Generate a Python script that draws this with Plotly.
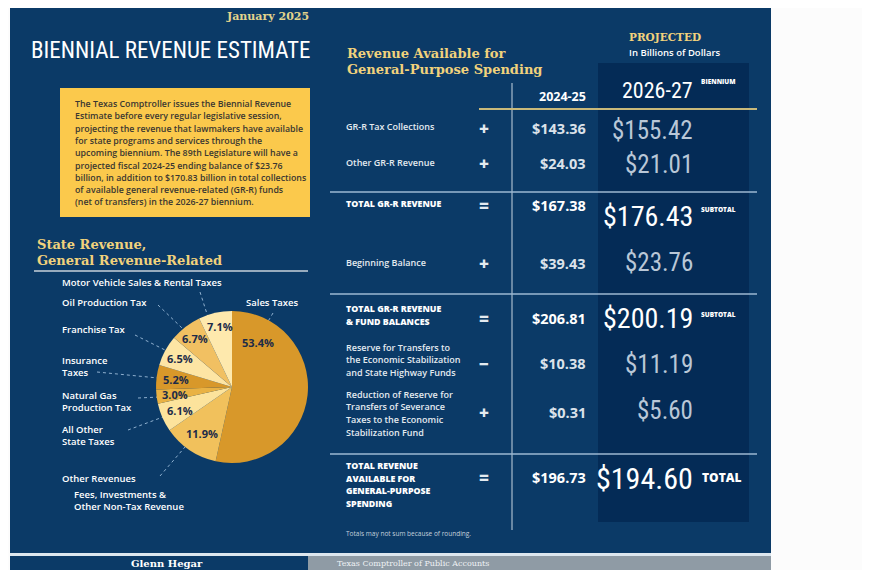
import plotly.graph_objects as go

W, H = 870, 570

# ---------------- data ----------------
pie_labels = ["Sales Taxes", "Other Revenues", "All Other State Taxes",
              "Natural Gas Production Tax", "Insurance Taxes", "Franchise Tax",
              "Oil Production Tax", "Motor Vehicle Sales & Rental Taxes"]
pie_shares = [53.4, 11.9, 6.1, 3.0, 5.2, 6.5, 6.7, 7.1]

row_labels = [
    ["GR-R Tax Collections"],
    ["Other GR-R Revenue"],
    ["TOTAL GR-R REVENUE"],
    ["Beginning Balance"],
    ["TOTAL GR-R REVENUE", "& FUND BALANCES"],
    ["Reserve for Transfers to", "the Economic Stabilization", "and State Highway Funds"],
    ["Reduction of Reserve for", "Transfers of Severance", "Taxes to the Economic", "Stabilization Fund"],
    ["TOTAL REVENUE", "AVAILABLE FOR", "GENERAL-PURPOSE", "SPENDING"],
]
row_ops = ["+", "+", "=", "+", "=", "\u2212", "+", "="]
values_2024_25 = [143.36, 24.03, 167.38, 39.43, 206.81, 10.38, 0.31, 196.73]
values_2026_27 = [155.42, 21.01, 176.43, 23.76, 200.19, 11.19, 5.60, 194.60]
row_kind = ["item", "item", "subtotal", "item", "subtotal", "item", "item", "total"]
row_tag = ["", "", "SUBTOTAL", "", "SUBTOTAL", "", "", "TOTAL"]

intro_lines = [
    "The Texas Comptroller issues the Biennial Revenue",
    "Estimate before every regular legislative session,",
    "projecting the revenue that lawmakers have available",
    "for state programs and services through the",
    "upcoming biennium. The 89th Legislature will have a",
    "projected fiscal 2024-25 ending balance of $23.76",
    "billion, in addition to $170.83 billion in total collections",
    "of available general revenue-related (GR-R) funds",
    "(net of transfers) in the 2026-27 biennium.",
]

# ---------------- style / layout ----------------
NAVY = "#0b3a67"
DARK = "#042b56"
GOLD_T = "#f1d27c"
SANS = "Open Sans, Noto Sans, DejaVu Sans, sans-serif"
SLAB = "DejaVu Serif, serif"
COND = "Liberation Sans Narrow, Roboto Condensed, DejaVu Sans Condensed, sans-serif"

pie_colors = ["#d8982a", "#f1c15c", "#fce39c", "#e9b244",
              "#d8982a", "#fde5a4", "#f1c062", "#fee9ad"]
pct_pos = [(258, 342), (202, 433), (180, 410), (175, 394),
           (176, 379), (180, 358), (195, 338), (220, 326)]

OFF = 8  # page body margin offset


def X(px):
    return (px - OFF) / W


def Y(py):
    return 1 - (py - OFF) / H


ann = []
shapes = []


def T(x, y, text, size, color, family=SANS, anchor="left", weight=400):
    ann.append(dict(x=X(x), y=Y(y), xref="paper", yref="paper", text=text,
                    showarrow=False, xanchor=anchor, yanchor="middle",
                    font=dict(family=family, size=size, color=color, weight=weight)))


def rect(x0, y0, x1, y1, color):
    shapes.append(dict(type="rect", xref="paper", yref="paper", x0=X(x0), x1=X(x1),
                       y0=Y(y0), y1=Y(y1), fillcolor=color, line=dict(width=0), layer="below"))


def line(x0, y0, x1, y1, color, width=1, dash="solid"):
    shapes.append(dict(type="line", xref="paper", yref="paper", x0=X(x0), x1=X(x1),
                       y0=Y(y0), y1=Y(y1), line=dict(color=color, width=width, dash=dash),
                       layer="below"))


# backgrounds
rect(10, 0, 771, 553, NAVY)
rect(10, 553, 771, 556, "#dde7ef")
rect(10, 556, 308, 580, NAVY)
rect(308, 556, 771, 580, "#8f9ba5")
rect(60, 88, 310, 217, "#fbc94c")
rect(598, 63, 749, 522, DARK)

# header
T(311, 16, "January 2025", 11, "#e3d48c", SLAB, "right", 700)
T(312, 50, "BIENNIAL REVENUE ESTIMATE", 23, "#ffffff", COND, "right", 400)
for i, s in enumerate(intro_lines):
    T(73, 104 + i * 12.3, s, 8.8, "#3a3731", SANS, "left", 600)

# pie section
T(35, 245, "State Revenue,", 13, GOLD_T, SLAB, "left", 700)
T(35, 260, "General Revenue-Related", 13, GOLD_T, SLAB, "left", 700)
line(34, 271, 308, 271, "#c9d2da", 1.5)

pie_text = [
    (60, 283, "Motor Vehicle Sales & Rental Taxes"),
    (60, 302, "Oil Production Tax"),
    (244, 302, "Sales Taxes"),
    (60, 329, "Franchise Tax"),
    (60, 360, "Insurance"), (60, 372, "Taxes"),
    (60, 395, "Natural Gas"), (60, 407, "Production Tax"),
    (60, 429, "All Other"), (60, 441, "State Taxes"),
    (60, 478, "Other Revenues"),
    (72, 494, "Fees, Investments &"), (72, 506, "Other Non-Tax Revenue"),
]
for x, y, s in pie_text:
    T(x, y, s, 9.5, "#ffffff", SANS, "left", 600)

LEAD = "#8fb0cf"
for seg in [((200, 292), (208, 317)), ((158, 305), (182, 328)), ((273, 313), (263, 330)),
            ((135, 335), (165, 350)), ((97, 372), (158, 378)), ((138, 398), (160, 397)),
            ((128, 430), (163, 417)), ((160, 476), (185, 447))]:
    line(seg[0][0], seg[0][1], seg[1][0], seg[1][1], LEAD, 1, "dot")

for (x, y), v in zip(pct_pos, pie_shares):
    T(x, y, f"{v:.1f}%", 11, "#1c2b48", SANS, "center", 700)

# right table
T(345, 53, "Revenue Available for", 13, GOLD_T, SLAB, "left", 700)
T(345, 69, "General-Purpose Spending", 13, GOLD_T, SLAB, "left", 700)
T(627, 37, "PROJECTED", 10.5, GOLD_T, SLAB, "left", 700)
T(627, 52, "In Billions of Dollars", 9.5, "#ffffff", SANS, "left", 600)
T(588, 96, "2024-25", 12.5, "#ffffff", SANS, "right", 700)
T(695, 90, "2026-27", 22, "#ffffff", COND, "right", 400)
T(699, 82, "BIENNIUM", 6.5, "#ffffff", SANS, "left", 800)

line(512, 83, 512, 530, "#c8d5e2", 1)
line(479, 109, 757, 109, "#c9b97a", 2)
for yy in (192, 294, 454):
    line(330, yy, 757, yy, "#9cb8d2", 1.5)

label_y = [127, 163, 204, 262, 309, 347, 394, 466]
value_y = [128, 164, 206, 263, 318, 363, 412, 477]
big_y = [130, 165, 216, 262, 318, 365, 410, 478]
big_size = {"item": 25, "subtotal": 28, "total": 30}

for i in range(len(row_labels)):
    kind = row_kind[i]
    tot = kind != "item"
    for j, s in enumerate(row_labels[i]):
        T(344, label_y[i] + j * 12.7, s, 8.8 if tot else 9, "#ffffff" if tot else "#e4eaf0",
          SANS, "left", 800 if tot else 600)
    T(484, value_y[i], row_ops[i], 17, "#e4eaf0", SANS, "center", 800)
    T(588, value_y[i], f"${values_2024_25[i]:.2f}", 14.5, "#ffffff" if tot else "#dbe2ea",
      SANS, "right", 700)
    T(695, big_y[i], f"${values_2026_27[i]:.2f}", big_size[kind],
      "#ffffff" if tot else "#b9c7d7", COND, "right", 400)
    if row_tag[i]:
        if kind == "total":
            T(700, 477, row_tag[i], 12, "#ffffff", SANS, "left", 800)
        else:
            T(699, label_y[i] + 5, row_tag[i], 6.5, "#ffffff", SANS, "left", 800)

T(344, 533, "Totals may not sum because of rounding.", 6.5, "#c5d0dc", SANS, "left", 400)

# footer
T(167, 563, "Glenn Hegar", 10, "#ffffff", SLAB, "center", 700)
T(335, 563, "Texas Comptroller of Public Accounts", 8, "#eef1f4", SLAB, "left", 400)

fig = go.Figure(go.Pie(
    labels=pie_labels, values=pie_shares, sort=False, direction="clockwise", rotation=0,
    marker=dict(colors=pie_colors, line=dict(width=0)),
    textinfo="none", hoverinfo="label+percent", showlegend=False,
    domain=dict(x=[X(156), X(308)], y=[Y(463), Y(311)]),
))

fig.update_layout(
    width=W, height=H, margin=dict(l=0, r=0, t=0, b=0),
    paper_bgcolor="#fcfcfc", plot_bgcolor="rgba(0,0,0,0)",
    annotations=ann, shapes=shapes, showlegend=False,
)

fig.write_html("out.html")
